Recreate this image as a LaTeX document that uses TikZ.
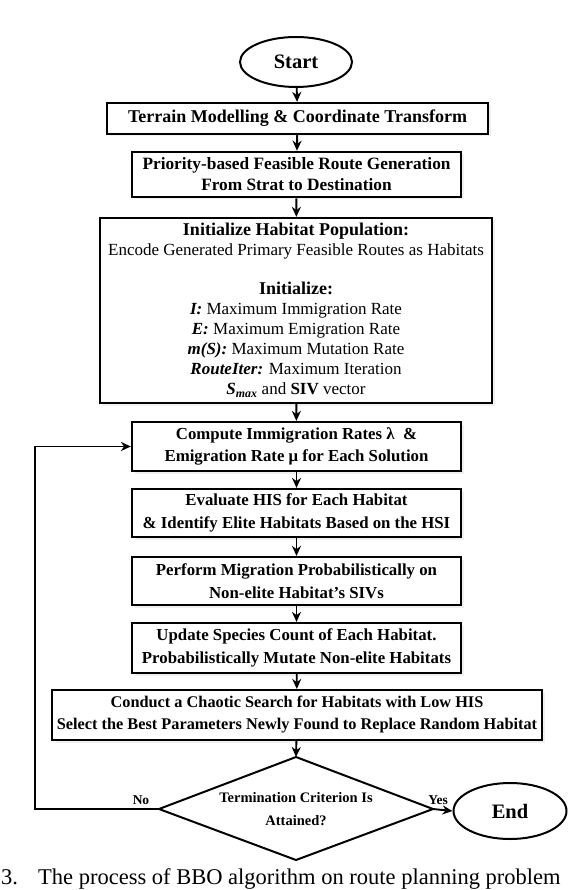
\documentclass[tikz,border=0pt]{standalone}
\usepackage{fontspec}
\setmainfont{Liberation Serif}
\usetikzlibrary{shapes.geometric,arrows.meta,shadows}
\begin{document}
\begin{tikzpicture}[x=1pt,y=-1pt,
  box/.style={draw, line width=2.2pt, rectangle, align=center, inner sep=0pt, fill=white,
    drop shadow={opacity=0.12, shadow xshift=2.5pt, shadow yshift=-2.5pt}},
  term/.style={draw, line width=2pt, ellipse, inner sep=0pt, fill=white,
    font=\bfseries\fontsize{20.5}{22}\selectfont},
  arr/.style={-{Stealth[length=10pt,width=9pt]}, line width=1.9pt},
  lbl/.style={font=\bfseries\fontsize{13.5}{15}\selectfont, inner sep=0pt},
  hd/.style={font=\bfseries\fontsize{18}{21}\selectfont},
  bd/.style={font=\bfseries\fontsize{16.8}{22.5}\selectfont}
]
\useasboundingbox (0,0) rectangle (568,890);

\node[term, minimum width=112, minimum height=50] (start) at (296,62) {Start};

\node[box, hd, minimum width=381, minimum height=31] (b1) at (297.5,118.5)
  {Terrain Modelling \& Coordinate Transform};

\node[box, minimum width=329, minimum height=45, line width=2.6pt,
  font=\bfseries\fontsize{17.3}{21}\selectfont] (b2) at (296.5,174.5)
  {Priority-based Feasible Route Generation\\From Strat to Destination};

\node[box, minimum width=392, minimum height=185,
  font=\fontsize{17}{20}\selectfont] (b3) at (296,310.5)
  {{\bfseries\fontsize{18}{20}\selectfont Initialize Habitat Population:}\\
   Encode Generated Primary Feasible Routes as Habitats\\[19pt]
   {\bfseries\fontsize{18}{20}\selectfont Initialize:}\\
   \textbf{\textit{I:}} Maximum Immigration Rate\\
   \textbf{\textit{E:}} Maximum Emigration Rate\\
   \textbf{\textit{m(S):}} Maximum Mutation Rate\\
   \textbf{\textit{RouteIter:}} Maximum Iteration\\
   \textbf{\textit{S}}\textsubscript{\textbf{\textit{max}}} and \textbf{SIV} vector};

\node[box, bd, minimum width=329, minimum height=49] (b4) at (296.5,446.5)
  {Compute Immigration Rates λ\ \ \&\\Emigration Rate μ for Each Solution};

\node[box, bd, minimum width=329, minimum height=48] (b5) at (296.5,513)
  {Evaluate HIS for Each Habitat\\\& Identify Elite Habitats Based on the HSI};

\node[box, bd, minimum width=329, minimum height=48] (b6) at (296.5,581)
  {Perform Migration Probabilistically on\\Non-elite Habitat's SIVs};

\node[box, bd, minimum width=329, minimum height=50] (b7) at (296.5,648)
  {Update Species Count of Each Habitat.\\Probabilistically Mutate Non-elite Habitats};

\node[box, minimum width=490, minimum height=50,
  font=\bfseries\fontsize{16.3}{22}\selectfont] (b8) at (297,715)
  {Conduct a Chaotic Search for Habitats with Low HIS\\
   Select the Best Parameters Newly Found to Replace Random Habitat};

% decision diamond
\coordinate (diaN) at (296,757);
\coordinate (diaE) at (433,809);
\coordinate (diaS) at (296,860);
\coordinate (diaW) at (159,809);
\draw[line width=2pt, line join=miter] (diaN) -- (diaE) -- (diaS) -- (diaW) -- cycle;
\node[align=center, inner sep=0pt, font=\bfseries\fontsize{14.5}{23}\selectfont] (dia) at (296,809)
  {Termination Criterion Is\\Attained?};

\node[term, minimum width=113, minimum height=56, font=\bfseries\fontsize{20.5}{22}\selectfont]
  (end) at (510,811) {End};

\coordinate (loopx) at (35,0);

\draw[arr] (start) -- (b1);
\draw[arr] (b1) -- (b2);
\draw[arr] (b2) -- (b3);
\draw[arr] (b3) -- (b4);
\draw[arr] (b4) -- (b5);
\draw[arr] (b5) -- (b6);
\draw[arr] (b6) -- (b7);
\draw[arr] (b7) -- (b8);
\draw[arr] (b8) -- (diaN);
\draw[arr] (diaE) -- (end.west);
\draw[arr] (diaW) -| (loopx |- b4.west) -- (b4.west);

\node[lbl, anchor=south] (no) at (141,805) {No};
\node[lbl, anchor=south] (yes) at (438,805) {Yes};

\node[anchor=base west, inner sep=0pt, font=\fontsize{22.5}{24}\selectfont] (capnum) at (1,884) {3.};
\node[anchor=base west, inner sep=0pt, font=\fontsize{22.5}{24}\selectfont] (cap) at (38,884)
  {The process of BBO algorithm on route planning problem};
\end{tikzpicture}
\end{document}
